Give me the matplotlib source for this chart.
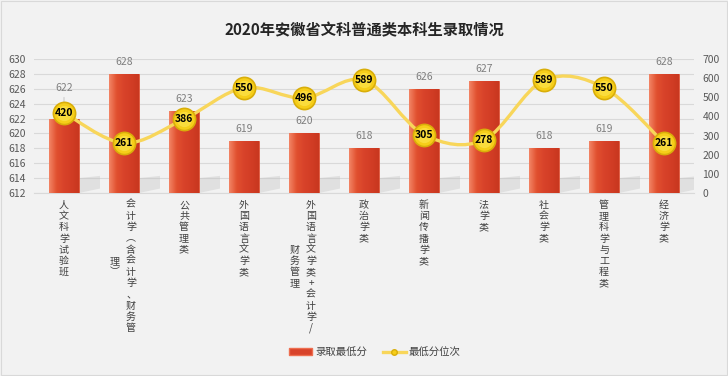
import matplotlib
matplotlib.use("Agg")
import matplotlib.pyplot as plt
from matplotlib.path import Path
from matplotlib.patches import PathPatch, Rectangle
from matplotlib.lines import Line2D
from matplotlib.patches import Patch
from matplotlib.colors import LinearSegmentedColormap
import numpy as np

plt.rcParams['font.family'] = ['Noto Sans CJK SC', 'DejaVu Sans']

title = "2020年安徽省文科普通类本科生录取情况"
categories = ["人文科学试验班", "会计学（含会计学、财务管理）", "公共管理类", "外国语言文学类",
              "外国语言文学类+会计学/财务管理", "政治学类", "新闻传播学类", "法学类",
              "社会学类", "管理科学与工程类", "经济学类"]
# label columns as displayed (vertical text, wrapped)
label_columns = [["人文科学试验班"], ["会计学︵含会计学、财务管", "理︶"], ["公共管理类"], ["外国语言文学类"],
                 ["外国语言文学类+会计学/", "财务管理"], ["政治学类"], ["新闻传播学类"], ["法学类"],
                 ["社会学类"], ["管理科学与工程类"], ["经济学类"]]
min_score = [622, 628, 623, 619, 620, 618, 626, 627, 618, 619, 628]
min_rank = [420, 261, 386, 550, 496, 589, 305, 278, 589, 550, 261]
left_ticks = list(range(612, 631, 2))
right_ticks = list(range(0, 701, 100))
legend_labels = ["录取最低分", "最低分位次"]

BG = '#F2F2F2'
fig = plt.figure(figsize=(7.28, 3.76), dpi=100, facecolor=BG)
ax = fig.add_axes([34/728, 1-193/376, 660/728, 134/376])
ax.set_facecolor(BG)
ax2 = ax.twinx()

x = np.arange(len(categories))
bars = ax.bar(x, [v - 612 for v in min_score], bottom=612, width=0.5,
              color='#D8432A', edgecolor='#E2583C', linewidth=0.6, zorder=3)
ax.set_ylim(612, 630)
ax.set_xlim(-0.5, len(categories) - 0.5)

# bevel-like horizontal gradient on bars
cmap = LinearSegmentedColormap.from_list('bev', ['#F28465', '#E1502F', '#D8432A', '#D23D25', '#C8371F'])
grad = np.linspace(0, 1, 64).reshape(1, -1)
for b in bars:
    x0, y0 = b.get_x(), b.get_y()
    w, h = b.get_width(), b.get_height()
    im = ax.imshow(grad, extent=(x0, x0 + w, y0, y0 + h), aspect='auto', cmap=cmap,
                   zorder=3.1, interpolation='bicubic')
    im.set_clip_path(b)
    # soft shadow to the right of bar base
    shadow = plt.Polygon([(x0 + w, y0), (x0 + w + 0.35, y0 + 0.6), (x0 + w + 0.35, y0 + 2.3),
                          (x0 + w, y0 + 2.0)], closed=True, facecolor='#BFBFBF',
                         edgecolor='none', alpha=0.35, zorder=2)
    ax.add_patch(shadow)

ax.set_yticks(left_ticks)
ax.set_yticklabels([str(t) for t in left_ticks], fontsize=7.5, color='#595959')
ax.grid(axis='y', color='#D9D9D9', linewidth=0.8, zorder=0)
ax.set_axisbelow(True)
for s in ['top', 'right', 'left']:
    ax.spines[s].set_visible(False)
ax.spines['bottom'].set_color('#D9D9D9')
ax.tick_params(axis='both', length=0, pad=6)
ax.set_xticks([])

# bar value labels
for i, v in enumerate(min_score):
    extra = 19 if i == 0 else 0
    ax.annotate(str(v), xy=(i, v), xycoords='data', xytext=(0, 12 + extra),
                textcoords='offset pixels', ha='center', va='center',
                fontsize=7.5, color='#7F7F7F', zorder=5)
    if extra:
        ax.annotate('', xy=(i, v), xycoords='data', xytext=(0, 5 + extra),
                    textcoords='offset pixels', zorder=2,
                    arrowprops=dict(arrowstyle='-', color='#BFBFBF', lw=0.6))

# right axis
ax2.set_ylim(0, 700)
ax2.set_yticks(right_ticks)
ax2.set_yticklabels([str(t) for t in right_ticks], fontsize=7.5, color='#595959')
ax2.tick_params(axis='y', length=0, pad=6)
for s in ['top', 'right', 'left', 'bottom']:
    ax2.spines[s].set_visible(False)

# smooth line (Catmull-Rom Bezier through the data points)
P = np.column_stack([x, min_rank]).astype(float)
verts = [tuple(P[0])]
codes = [Path.MOVETO]
n = len(P)
for i in range(n - 1):
    p0 = P[i - 1] if i > 0 else P[i]
    p1 = P[i]
    p2 = P[i + 1]
    p3 = P[i + 2] if i + 2 < n else P[i + 1]
    c1 = p1 + (p2 - p0) / 6.0
    c2 = p2 - (p3 - p1) / 6.0
    verts += [tuple(c1), tuple(c2), tuple(p2)]
    codes += [Path.CURVE4] * 3
ax2.add_patch(PathPatch(Path(verts, codes), facecolor='none', edgecolor='#F8D65A',
                        linewidth=2.4, zorder=3))
ax2.plot(x, min_rank, linestyle='none', marker='o', markersize=16,
         markerfacecolor='#F6CE19', markeredgecolor='#D9AE0A', markeredgewidth=1.2, zorder=4)
ax2.plot(x, min_rank, linestyle='none', marker='o', markersize=11,
         markerfacecolor='#FADC3C', markeredgecolor='none', zorder=4.1)
for i, v in enumerate(min_rank):
    ax2.text(i, v, str(v), ha='center', va='center', fontsize=7.5,
             fontweight='bold', color='black', zorder=5)

# vertical category labels
step = 11.2
for i, cols in enumerate(label_columns):
    if len(cols) == 1:
        offsets = [0]
    else:
        offsets = [7, -9]
    main_len = len(cols[0])
    for c, (col, dx) in enumerate(zip(cols, offsets)):
        start = 0 if c == 0 else (main_len - len(col)) / 2.0
        for k, ch in enumerate(col):
            ax.annotate(ch, xy=(i, 0), xycoords=('data', 'axes fraction'),
                        xytext=(dx, -12 - (start + k) * step), textcoords='offset pixels',
                        ha='center', va='center', fontsize=7.2, color='#404040',
                        annotation_clip=False)

fig.text(0.5, 1 - 30/376, title, ha='center', va='center', fontsize=11,
         fontweight='bold', color='#262626')

handles = [Patch(facecolor='#D8432A', edgecolor='#EE6E50'),
           Line2D([0], [0], color='#F8D65A', lw=2.4, marker='o', markersize=4,
                  markerfacecolor='#F6CE19', markeredgecolor='#D9AE0A')]
fig.legend(handles, legend_labels, loc='center', bbox_to_anchor=(375/728, 1 - 352/376),
           ncol=2, frameon=False, fontsize=7.5, handlelength=2.2, handleheight=0.6,
           columnspacing=1.5, handletextpad=0.3, labelcolor='#404040')

fig.add_artist(Rectangle((0.002, 0.002), 0.996, 0.996, transform=fig.transFigure,
                         fill=False, edgecolor='#D9D9D9', linewidth=0.8))

fig.savefig('out.png', dpi=100, facecolor=BG)
